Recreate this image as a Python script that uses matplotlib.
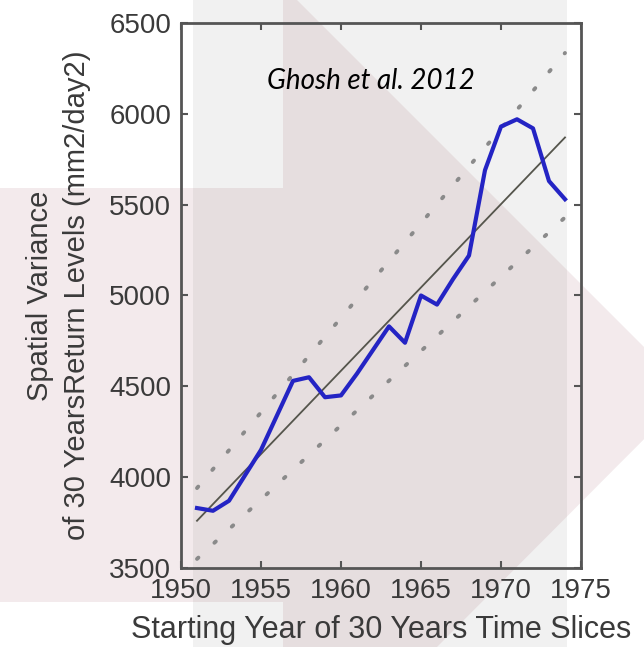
import numpy as np
import matplotlib
matplotlib.use('Agg')
import matplotlib.pyplot as plt
from matplotlib.patches import Rectangle, Polygon

# values
years = list(range(1951, 1975))
variance = [3830, 3815, 3870, 4010, 4150, 4340, 4530, 4550, 4440, 4450, 4570, 4700,
            4830, 4740, 5000, 4950, 5090, 5220, 5690, 5930, 5970, 5920, 5630, 5530]
fit_years = [1951, 1974]
fit_vals = [3760, 5870]
upper_vals = [3940, 6335]
lower_vals = [3550, 5430]

x_ticks = [1950, 1955, 1960, 1965, 1970, 1975]
y_ticks = [3500, 4000, 4500, 5000, 5500, 6000, 6500]

W, H = 644, 647
fig = plt.figure(figsize=(W / 100, H / 100), dpi=100)
fig.patch.set_facecolor('white')

# slide background behind the pasted chart
bg = fig.add_axes([0, 0, 1, 1], zorder=0)
bg.set_xlim(0, W)
bg.set_ylim(H, 0)
bg.axis('off')
bg.add_patch(Rectangle((193, 0), 374, H, facecolor='#f1f1f1', edgecolor='none'))
bg.add_patch(Polygon([(0, 188), (283, 188), (283, 0), (297, 0), (690, 393),
                      (437, 647), (283, 647), (283, 602), (0, 602)],
                     closed=True, facecolor='#7f1f2f', alpha=0.09, edgecolor='none'))

ax = fig.add_axes([181 / W, 1 - 568 / H, 400 / W, 545 / H], zorder=1)
ax.set_facecolor('none')

ax.plot(fit_years, upper_vals, color='#8a8a8a', lw=2.8, dashes=(0.5, 5.6),
        dash_capstyle='round')
ax.plot(fit_years, lower_vals, color='#8a8a8a', lw=2.8, dashes=(0.5, 5.6),
        dash_capstyle='round')
ax.plot(fit_years, fit_vals, color='#55554c', lw=1.3)
ax.plot(years, variance, color='#2424c4', lw=3.0, solid_joinstyle='round')

ax.set_xlim(1950, 1975)
ax.set_ylim(3500, 6500)
ax.set_xticks(x_ticks)
ax.set_yticks(y_ticks)

font = 'Liberation Sans'
txt_color = '#3a3a3a'
ax.tick_params(direction='in', length=5, width=1.5, color='#555555',
               top=True, right=True, labelsize=20, labelcolor=txt_color, pad=7)
for lab in ax.get_xticklabels() + ax.get_yticklabels():
    lab.set_family(font)
for sp in ax.spines.values():
    sp.set_color('#555555')
    sp.set_linewidth(2)

ax.set_xlabel('Starting Year of 30 Years Time Slices', fontsize=22, family=font,
              color=txt_color, labelpad=8)
ax.set_ylabel('Spatial Variance\nof 30 YearsReturn Levels (mm2/day2)', fontsize=21,
              family=font, color=txt_color, labelpad=13, linespacing=1.4)

ax.text(0.475, 0.893, 'Ghosh et al. 2012', transform=ax.transAxes, ha='center',
        va='center', fontsize=20, style='italic', family='Lato', color='black')

fig.savefig('out.png', dpi=100)
